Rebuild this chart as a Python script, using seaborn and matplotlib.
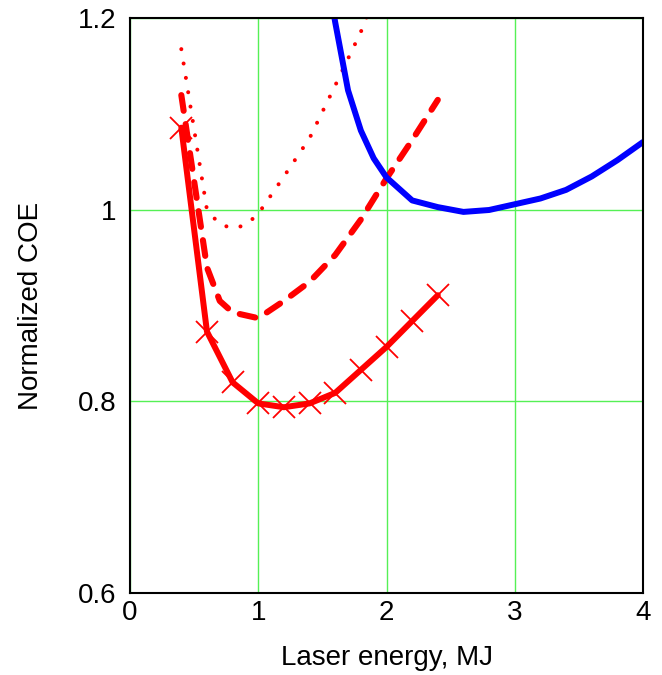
import numpy as np
import pandas as pd
import seaborn as sns
import matplotlib.pyplot as plt

# red solid with x markers
solid_x = [0.4, 0.6, 0.8, 1.0, 1.2, 1.4, 1.6, 1.8, 2.0, 2.2, 2.4]
solid_y = [1.086, 0.873, 0.820, 0.798, 0.794, 0.798, 0.809, 0.833, 0.857, 0.884, 0.911]

# red dashed
dash_x = [0.4, 0.5, 0.6, 0.7, 0.8, 1.0, 1.2, 1.4, 1.6, 1.8, 2.0, 2.2, 2.4]
dash_y = [1.12, 1.03, 0.94, 0.905, 0.893, 0.887, 0.905, 0.925, 0.953, 0.990, 1.033, 1.073, 1.115]

# red dotted
dot_x = [0.4, 0.6, 0.7, 0.8, 0.9, 1.0, 1.2, 1.4, 1.6, 1.8, 1.9]
dot_y = [1.168, 1.000, 0.985, 0.981, 0.984, 0.996, 1.035, 1.075, 1.130, 1.186, 1.22]

# blue solid
blue_x = [1.55, 1.6, 1.7, 1.8, 1.9, 2.0, 2.2, 2.4, 2.6, 2.8, 3.0, 3.2, 3.4, 3.6, 3.8, 4.0]
blue_y = [1.235, 1.196, 1.125, 1.083, 1.054, 1.034, 1.010, 1.003, 0.998, 1.000, 1.006, 1.012,
          1.021, 1.035, 1.052, 1.071]

x_ticks = [0, 1, 2, 3, 4]
y_ticks = [0.6, 0.8, 1.0, 1.2]
y_tick_labels = ['0.6', '0.8', '1', '1.2']

sns.set_theme(style='white')
plt.rcParams['font.family'] = ['Liberation Sans', 'DejaVu Sans']

fig = plt.figure(figsize=(6.62, 6.75), dpi=100)
ax = fig.add_axes([0.1964, 0.1215, 0.7749, 0.8511])

ax.grid(True, color='#55f055', linewidth=1.0)
ax.set_axisbelow(True)

sns.lineplot(x=dot_x, y=dot_y, ax=ax, color='red', linewidth=2.9,
             linestyle=(0, (0.01, 3.6)), dash_capstyle='round')
sns.lineplot(x=dash_x, y=dash_y, ax=ax, color='red', linewidth=4.4,
             linestyle=(0, (2.6, 2.2)), dash_capstyle='round')
sns.lineplot(x=blue_x, y=blue_y, ax=ax, color='blue', linewidth=4.3)
sns.lineplot(x=solid_x, y=solid_y, ax=ax, color='red', linewidth=4.3,
             marker='x', markersize=16.5, markeredgewidth=1.3,
             markeredgecolor='red', markerfacecolor='red')

ax.set_xlim(0, 4)
ax.set_ylim(0.6, 1.2)
ax.set_xticks(x_ticks)
ax.set_yticks(y_ticks)
ax.set_yticklabels(y_tick_labels)
ax.tick_params(axis='both', length=0, labelsize=20, colors='black')
ax.tick_params(axis='x', pad=5)
ax.tick_params(axis='y', pad=10)
for s in ax.spines.values():
    s.set_color('black')
    s.set_linewidth(1.5)

ax.set_xlabel('Laser energy, MJ', fontsize=20, color='black', labelpad=14)
ax.set_ylabel('Normalized COE', fontsize=20, color='black', labelpad=24)

fig.savefig('out.png', dpi=100)
